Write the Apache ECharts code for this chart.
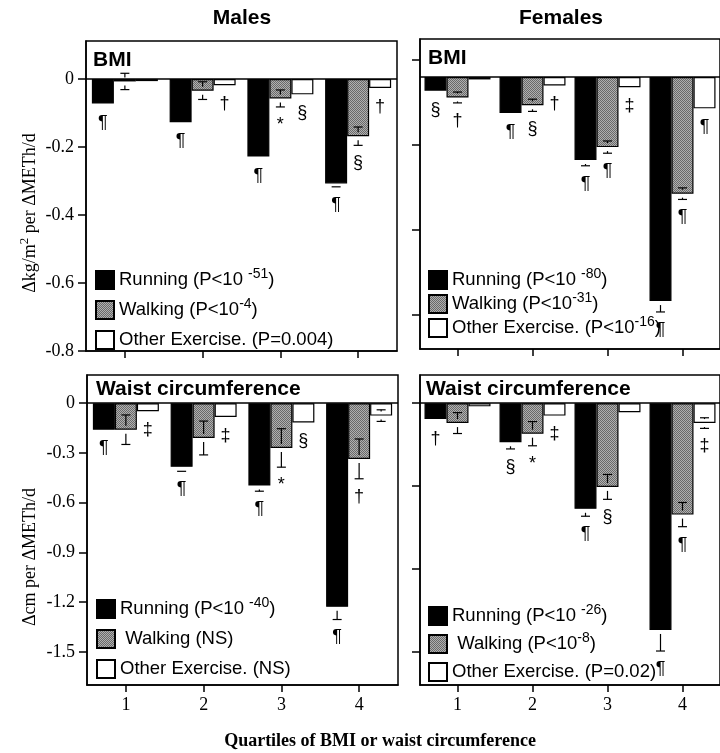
<!DOCTYPE html>
<html>
<head>
<meta charset="utf-8">
<script src="https://cdn.jsdelivr.net/npm/echarts@6/dist/echarts.min.js"></script>
<style>html,body{margin:0;padding:0;background:#fff}</style>
</head>
<body>
<div id="myChart" style="width:720px;height:753px"></div>
<script>
var quartiles = ['1', '2', '3', '4']
var names = ['Running', 'Walking', 'Other Exercise.']

// Males, BMI (kg/m2 per METh/d)
var mBmiRun = [-0.072, -0.127, -0.228, -0.307]
var mBmiRunSe = [0.003, 0.003, 0.003, 0.010]
var mBmiRunSig = ['¶', '¶', '¶', '¶']
var mBmiWalk = [-0.007, -0.034, -0.057, -0.168]
var mBmiWalkSe = [0.024, 0.026, 0.025, 0.027]
var mBmiWalkSig = ['', '', '*', '§']
var mBmiOther = [-0.006, -0.018, -0.045, -0.026]
var mBmiOtherSe = [0.002, 0.002, 0.002, 0.002]
var mBmiOtherSig = ['', '†', '§', '†']
var mBmiTicks = [0, -0.2, -0.4, -0.6, -0.8]
var mBmiLegend = ['Running (P<10 {s|-51})', 'Walking (P<10{s|-4})', 'Other Exercise. (P=0.004)']

// Females, BMI
var fBmiRun = [-0.040, -0.106, -0.244, -0.659]
var fBmiRunSe = [0.003, 0.003, 0.017, 0.032]
var fBmiRunSig = ['§', '¶', '¶', '¶']
var fBmiWalk = [-0.060, -0.083, -0.206, -0.343]
var fBmiWalkSe = [0.016, 0.018, 0.018, 0.017]
var fBmiWalkSig = ['†', '§', '¶', '¶']
var fBmiOther = [-0.007, -0.025, -0.030, -0.092]
var fBmiOtherSe = [0.002, 0.002, 0.002, 0.002]
var fBmiOtherSig = ['', '†', '‡', '¶']
var fBmiTicks = [0.05, -0.2, -0.45, -0.7]
var fBmiLegend = ['Running (P<10 {s|-80})', 'Walking (P<10{s|-31})', 'Other Exercise. (P<10{s|-16})']

// Males, waist circumference (cm per METh/d)
var mWaistRun = [-0.160, -0.384, -0.497, -1.228]
var mWaistRunSe = [0.004, 0.027, 0.034, 0.077]
var mWaistRunSig = ['¶', '¶', '¶', '¶']
var mWaistWalk = [-0.160, -0.210, -0.270, -0.336]
var mWaistWalkSe = [0.089, 0.102, 0.116, 0.120]
var mWaistWalkSig = ['', '', '*', '†']
var mWaistOther = [-0.049, -0.083, -0.116, -0.075]
var mWaistOtherSe = [0.004, 0.004, 0.004, 0.035]
var mWaistOtherSig = ['‡', '‡', '§', '']
var mWaistTicks = [0, -0.3, -0.6, -0.9, -1.2, -1.5]
var mWaistLegend = ['Running (P<10 {s|-40})', ' Walking (NS)', 'Other Exercise. (NS)']

// Females, waist circumference
var fWaistRun = [-0.095, -0.236, -0.637, -1.368]
var fWaistRunSe = [0.015, 0.040, 0.045, 0.127]
var fWaistRunSig = ['†', '§', '¶', '¶']
var fWaistWalk = [-0.120, -0.184, -0.505, -0.672]
var fWaistWalkSe = [0.063, 0.073, 0.075, 0.073]
var fWaistWalkSig = ['', '*', '§', '¶']
var fWaistOther = [-0.019, -0.075, -0.055, -0.120]
var fWaistOtherSe = [0.004, 0.004, 0.004, 0.032]
var fWaistOtherSig = ['', '‡', '', '‡']
var fWaistTicks = [0, -0.5, -1.0, -1.5]
var fWaistLegend = ['Running (P<10 {s|-26})', ' Walking (P<10{s|-8})', 'Other Exercise. (P=0.02)']

var BAR_W = 22
var CAP = 4.5
var GAP = 4
var SANS = '"Liberation Sans", Arial, sans-serif'
var SERIF = '"Liberation Serif", "Times New Roman", serif'

// fine grey hatch for the walking bars
var pattern = document.createElement('canvas')
pattern.width = 4
pattern.height = 4
var pctx = pattern.getContext('2d')
pctx.fillStyle = '#b0b0b0'
pctx.fillRect(0, 0, 4, 4)
pctx.fillStyle = '#6a6a6a'
for (var i = 0; i < 4; i++) {
  pctx.fillRect(i, i, 1, 1)
  pctx.fillRect(i, (i + 2) % 4, 1, 1)
}
var walkFill = { image: pattern, repeat: 'repeat' }
var fills = ['#000', walkFill, '#fff']

var panels = [
  { grid: { left: 86, top: 41, width: 311, height: 310 }, min: -0.8, max: 0.112, ticks: mBmiTicks,
    showY: true, showX: false, title: 'BMI', titlePos: [93, 60], legend: mBmiLegend,
    legendPos: { left: 90, top: 262, itemGap: 4 },
    values: [mBmiRun, mBmiWalk, mBmiOther], se: [mBmiRunSe, mBmiWalkSe, mBmiOtherSe],
    sig: [mBmiRunSig, mBmiWalkSig, mBmiOtherSig] },
  { grid: { left: 420, top: 39, width: 310, height: 310 }, min: -0.8, max: 0.112, ticks: fBmiTicks,
    showY: false, showX: false, title: 'BMI', titlePos: [428, 58], legend: fBmiLegend,
    legendPos: { left: 423, top: 262, itemGap: -2 },
    values: [fBmiRun, fBmiWalk, fBmiOther], se: [fBmiRunSe, fBmiWalkSe, fBmiOtherSe],
    sig: [fBmiRunSig, fBmiWalkSig, fBmiOtherSig] },
  { grid: { left: 87, top: 375, width: 311, height: 310 }, min: -1.7, max: 0.17, ticks: mWaistTicks,
    showY: true, showX: true, title: 'Waist circumference', titlePos: [96, 389], legend: mWaistLegend,
    legendPos: { left: 91, top: 591, itemGap: 4 },
    values: [mWaistRun, mWaistWalk, mWaistOther], se: [mWaistRunSe, mWaistWalkSe, mWaistOtherSe],
    sig: [mWaistRunSig, mWaistWalkSig, mWaistOtherSig] },
  { grid: { left: 420, top: 375, width: 310, height: 310 }, min: -1.7, max: 0.17, ticks: fWaistTicks,
    showY: false, showX: true, title: 'Waist circumference', titlePos: [426, 389], legend: fWaistLegend,
    legendPos: { left: 423, top: 598, itemGap: 2 },
    values: [fWaistRun, fWaistWalk, fWaistOther], se: [fWaistRunSe, fWaistWalkSe, fWaistOtherSe],
    sig: [fWaistRunSig, fWaistWalkSig, fWaistOtherSig] }
]

function errorItem (rows) {
  return function (params, api) {
    var row = rows[params.dataIndex]
    var base = api.coord([row[0], row[2]])
    var x = base[0] + (row[1] - 1) * BAR_W
    var y0 = base[1]
    var yLo = api.coord([row[0], row[2] - row[3]])[1]
    var yHi = api.coord([row[0], row[2] + row[3]])[1]
    var kids = []
    var line = function (x1, y1, x2, y2) {
      kids.push({ type: 'line', shape: { x1: x1, y1: y1, x2: x2, y2: y2 }, style: { stroke: '#000', lineWidth: 1.2 } })
    }
    if (yLo - y0 > 2.5) {
      line(x - CAP, yLo, x + CAP, yLo)
      if (yLo - y0 > GAP + 1) line(x, y0 + GAP, x, yLo)
    }
    if (y0 - yHi > 2.5) {
      line(x - CAP, yHi, x + CAP, yHi)
      if (y0 - yHi > GAP + 1) line(x, yHi, x, y0 - GAP)
    }
    if (row[4]) {
      kids.push({ type: 'text', style: { text: row[4], x: x, y: Math.max(yLo, y0) + 9,
        align: 'center', verticalAlign: 'top', font: '18px ' + SANS, fill: '#000' } })
    }
    return { type: 'group', children: kids }
  }
}

var option = {
  animation: false,
  grid: [], xAxis: [], yAxis: [], series: [], legend: [],
  graphic: [
    { type: 'text', x: 242, y: 18, style: { text: 'Males', font: 'bold 21px ' + SANS, align: 'center', verticalAlign: 'middle', fill: '#000' } },
    { type: 'text', x: 561, y: 18, style: { text: 'Females', font: 'bold 21px ' + SANS, align: 'center', verticalAlign: 'middle', fill: '#000' } },
    { type: 'text', x: 380, y: 741, style: { text: 'Quartiles of BMI or waist circumference', font: 'bold 18px ' + SERIF, align: 'center', verticalAlign: 'middle', fill: '#000' } },
    { type: 'text', x: 30, y: 213, rotation: Math.PI / 2,
      style: { text: '{a|Δkg/m}{s|2}{a| per ΔMETh/d}', align: 'center', verticalAlign: 'middle',
        rich: { a: { fontFamily: SERIF, fontSize: 18, lineHeight: 24, fill: '#000' },
                s: { fontFamily: SERIF, fontSize: 13, lineHeight: 12, verticalAlign: 'top', fill: '#000' } } } },
    { type: 'text', x: 30, y: 557, rotation: Math.PI / 2,
      style: { text: 'Δcm per ΔMETh/d', align: 'center', verticalAlign: 'middle', font: '18px ' + SERIF, fill: '#000' } }
  ]
}

panels.forEach(function (p, gi) {
  option.grid.push(Object.assign({ show: true, borderColor: '#000', borderWidth: 1.5, backgroundColor: 'transparent' }, p.grid))
  option.xAxis.push({
    type: 'category', gridIndex: gi, data: quartiles,
    axisLine: { show: true, onZero: false, lineStyle: { color: '#000', width: 1.5 } },
    axisTick: { show: true, alignWithLabel: true, length: 7, lineStyle: { color: '#000', width: 1.5 } },
    axisLabel: { show: p.showX, margin: 11, fontFamily: SERIF, fontSize: 18, color: '#000' },
    splitLine: { show: false }
  })
  option.yAxis.push({
    type: 'value', gridIndex: gi, min: p.min, max: p.max,
    axisLine: { show: true, lineStyle: { color: '#000', width: 1.5 } },
    axisTick: { show: true, length: 8, customValues: p.ticks, lineStyle: { color: '#000', width: 1.5 } },
    axisLabel: { show: p.showY, customValues: p.ticks, margin: 12, fontFamily: SERIF, fontSize: 18, color: '#000',
      formatter: function (v) { return v === 0 ? '0' : v.toFixed(1) } },
    splitLine: { show: false }
  })
  var rows = []
  p.values.forEach(function (vals, k) {
    var s = {
      type: 'bar', name: names[k], xAxisIndex: gi, yAxisIndex: gi, data: vals,
      barWidth: BAR_W, barGap: '0%', z: 2,
      itemStyle: { color: fills[k], borderColor: '#000', borderWidth: 1.2 }
    }
    if (k === 0) {
      s.markLine = { silent: true, symbol: 'none', label: { show: false }, animation: false,
        lineStyle: { type: 'solid', color: '#000', width: 1.5 }, data: [{ yAxis: 0 }] }
    }
    option.series.push(s)
    vals.forEach(function (v, c) { rows.push([c, k, v, p.se[k][c], p.sig[k][c]]) })
  })
  option.series.push({
    type: 'custom', xAxisIndex: gi, yAxisIndex: gi, z: 5, silent: true,
    data: rows.map(function (r) { return [r[0], r[1], r[2], r[3]] }),
    encode: { x: 0, y: 2 },
    renderItem: errorItem(rows)
  })
  option.legend.push(Object.assign({
    orient: 'vertical', selectedMode: false, itemWidth: 18, itemHeight: 18, icon: 'rect',
    data: names,
    formatter: function (name) { return p.legend[names.indexOf(name)] },
    textStyle: { fontFamily: SANS, fontSize: 18.5, color: '#000', lineHeight: 26,
      rich: { s: { fontFamily: SANS, fontSize: 14, lineHeight: 13, verticalAlign: 'top', color: '#000' } } }
  }, p.legendPos))
  option.graphic.push({ type: 'text', x: p.titlePos[0], y: p.titlePos[1],
    style: { text: p.title, font: 'bold 21px ' + SANS, align: 'left', verticalAlign: 'middle', fill: '#000' } })
})

var myChart = echarts.init(document.getElementById('myChart'))
myChart.setOption(option)
</script>
</body>
</html>
